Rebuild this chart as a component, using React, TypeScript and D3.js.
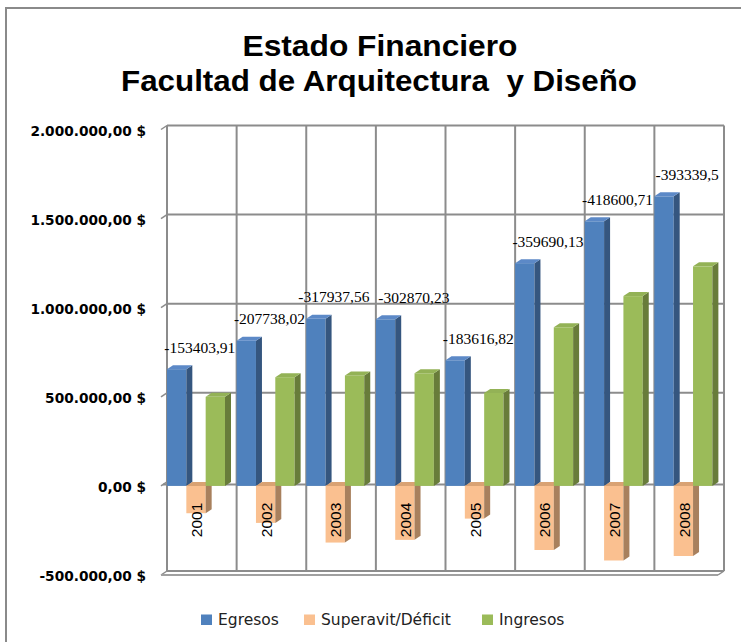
import React from "react";
import * as d3 from "d3";

const years = ["2001", "2002", "2003", "2004", "2005", "2006", "2007", "2008"];
const egresos = [655000, 815000, 938000, 935000, 705000, 1250000, 1485000, 1625000];
const superavit = [-153403.91, -207738.02, -317937.56, -302870.23, -183616.82, -359690.13, -418600.71, -393339.5];
const ingresos = [500000, 610000, 620000, 632000, 522000, 890000, 1065000, 1232000];
const yTicks = [-500000, 0, 500000, 1000000, 1500000, 2000000];
const seriesNames = ["Egresos", "Superavit/Déficit", "Ingresos"];
const titleLines = ["Estado Financiero", "Facultad de Arquitectura  y Diseño"];

const W = 741;
const H = 642;
const DX = 6;
const DY = -4;
const LABEL_FS = 15.5;
const CHAR_W = 7.6;

const colors = [
  { front: "#4F81BD", side: "#35567F", top: "#5C89C7" },
  { front: "#FAC090", side: "#A8805D", top: "#D9A273" },
  { front: "#9BBB59", side: "#687C3A", top: "#93B256" },
];

const locale = d3.formatLocale({
  decimal: ",",
  thousands: ".",
  grouping: [3],
  currency: ["", " $"],
  minus: "-",
});
const fmtTick = locale.format("$,.2f");
const fmtLabel = (v: number) => String(v).replace(".", ",");

export default function App() {
  const yBack = d3.scaleLinear().domain([-500000, 2000000]).range([571, 125.5]);
  const yFront = (v: number) => yBack(v) + 4;
  const x = d3.scaleBand<string>().domain(years).range([167, 724]).padding(0);
  const inner = d3.scaleBand<string>().domain(seriesNames).range([0, 58]).padding(0);
  const series = [egresos, superavit, ingresos];

  const wallLeft = 167;
  const wallRight = 724;
  const top = yBack(2000000);
  const bottom = yBack(-500000);
  const grid = "#8C8C8C";

  // data labels with simple overlap avoidance
  const labels = years.map((yr, i) => {
    const text = fmtLabel(superavit[i]);
    return {
      key: yr,
      text,
      cx: (x(yr) as number) + x.bandwidth() / 2 - 2,
      cy: yFront(egresos[i]) - 22,
      w: text.length * CHAR_W,
    };
  });
  for (let i = 0; i < labels.length - 1; i++) {
    const a = labels[i];
    const b = labels[i + 1];
    if (Math.abs(a.cy - b.cy) < 14) {
      const need = (a.w + b.w) / 2 + 4;
      const have = b.cx - a.cx;
      if (have < need) {
        const d = (need - have) / 2;
        a.cx -= d;
        b.cx += d;
      }
    }
  }

  const bars: React.ReactNode[] = [];
  years.forEach((yr, i) => {
    series.forEach((vals, s) => {
      const v = vals[i];
      const x0 = (x(yr) as number) + (inner(seriesNames[s]) as number);
      const w = inner.bandwidth();
      const yv = yFront(v);
      const y0 = yFront(0);
      const yT = Math.min(yv, y0);
      const yB = Math.max(yv, y0);
      const c = colors[s];
      bars.push(
        <g key={`${yr}-${s}`}>
          <rect x={x0} y={yT} width={w} height={yB - yT} fill={c.front} />
          <polygon
            points={`${x0 + w},${yT} ${x0 + w + DX},${yT + DY} ${x0 + w + DX},${yB + DY} ${x0 + w},${yB}`}
            fill={c.side}
          />
          <polygon
            points={`${x0},${yT} ${x0 + DX},${yT + DY} ${x0 + w + DX},${yT + DY} ${x0 + w},${yT}`}
            fill={c.top}
          />
        </g>
      );
    });
  });

  return (
    <svg width={W} height={H} style={{ display: "block", position: "absolute", left: 0, top: 0 }}>
      <rect x={0} y={0} width={W} height={H} fill="#fff" />
      <rect x={6} y={8} width={W + 20} height={H + 20} fill="#fff" stroke="#8A8A8A" strokeWidth={2} />

      <text
        x={380}
        y={56}
        textAnchor="middle"
        fontFamily="Liberation Sans, Arial, sans-serif"
        fontWeight="bold"
        fontSize={30}
        textLength={275}
        lengthAdjust="spacingAndGlyphs"
      >
        {titleLines[0]}
      </text>
      <text
        x={379}
        y={91}
        textAnchor="middle"
        fontFamily="Liberation Sans, Arial, sans-serif"
        fontWeight="bold"
        fontSize={30}
        textLength={516}
        lengthAdjust="spacingAndGlyphs"
        style={{ whiteSpace: "pre" }}
      >
        {titleLines[1]}
      </text>

      {/* back wall gridlines */}
      {yTicks.map((t) => (
        <g key={`g${t}`}>
          {t !== 0 && t !== -500000 && (
            <line x1={wallLeft} x2={wallRight} y1={yBack(t)} y2={yBack(t)} stroke={grid} strokeWidth={2} />
          )}
          <line x1={wallLeft - DX} y1={yBack(t) + 4} x2={wallLeft} y2={yBack(t)} stroke={grid} strokeWidth={1.5} />
        </g>
      ))}
      {d3.range(years.length + 1).map((k) => {
        const xx = k < years.length ? (x(years[k]) as number) : wallRight;
        return <line key={`v${k}`} x1={xx} x2={xx} y1={top} y2={bottom} stroke={grid} strokeWidth={2} />;
      })}
      {/* zero floor line */}
      <line x1={wallLeft - DX + 2} x2={wallRight} y1={yBack(0) + 2.5} y2={yBack(0) + 2.5} stroke={grid} strokeWidth={2} />
      {/* bottom floor */}
      <line x1={wallLeft} x2={wallRight} y1={bottom} y2={bottom} stroke={grid} strokeWidth={2} />
      <line x1={wallLeft - DX} x2={wallRight - DX} y1={bottom + 4} y2={bottom + 4} stroke="#A0A0A0" strokeWidth={2} />
      <line x1={wallRight - DX} y1={bottom + 4} x2={wallRight} y2={bottom} stroke={grid} strokeWidth={1.5} />

      {bars}

      {/* y axis labels */}
      {yTicks.map((t) => (
        <text
          key={`t${t}`}
          x={146}
          y={yFront(t) + 1}
          textAnchor="end"
          dominantBaseline="central"
          fontFamily="DejaVu Sans, sans-serif"
          fontWeight="bold"
          fontSize={13.7}
          fill="#000"
        >
          {fmtTick(t)}
        </text>
      ))}

      {/* category labels */}
      {years.map((yr) => (
        <text
          key={`c${yr}`}
          transform={`translate(${(x(yr) as number) + 29.7},${520}) rotate(-90)`}
          textAnchor="middle"
          dominantBaseline="central"
          fontFamily="Liberation Sans, Arial, sans-serif"
          fontSize={15.5}
          fill="#000"
        >
          {yr}
        </text>
      ))}

      {/* data labels */}
      {labels.map((l) => (
        <text
          key={`d${l.key}`}
          x={l.cx}
          y={l.cy}
          textAnchor="middle"
          dominantBaseline="central"
          fontFamily="Liberation Serif, Times New Roman, serif"
          fontSize={LABEL_FS}
          fill="#000"
        >
          {l.text}
        </text>
      ))}

      {/* legend */}
      {seriesNames.map((name, s) => {
        const lx = [201, 304, 482][s];
        return (
          <g key={`l${s}`}>
            <rect x={lx} y={614.5} width={11} height={10.5} fill={colors[s].front} />
            <text
              x={lx + 17}
              y={625}
              fontFamily="DejaVu Sans, sans-serif"
              fontSize={15.5}
              fill="#222"
            >
              {name}
            </text>
          </g>
        );
      })}
    </svg>
  );
}
